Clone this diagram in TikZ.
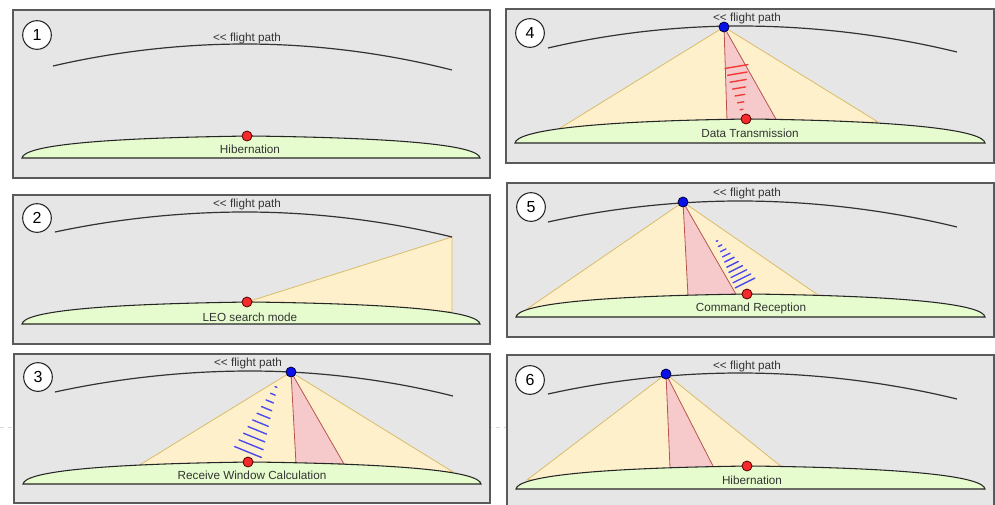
\documentclass[tikz,border=0pt]{standalone}
\usepackage{fontspec}
\setmainfont{Liberation Sans}
\usetikzlibrary{calc}
\definecolor{panelbg}{HTML}{E6E6E6}
\definecolor{panelline}{HTML}{5A5A5A}
\definecolor{pathline}{HTML}{333333}
\definecolor{groundgreen}{HTML}{E6FCCE}
\definecolor{conefill}{HTML}{FFF0CC}
\definecolor{coneline}{HTML}{D9BC6A}
\definecolor{beamfill}{HTML}{F6CACA}
\definecolor{beamline}{HTML}{B85450}
\definecolor{satblue}{HTML}{0A10E8}
\definecolor{stared}{HTML}{F52A2A}
\definecolor{hatchblue}{HTML}{4A4AEE}
\definecolor{hatchred}{HTML}{F03A3A}

\begin{document}
\begin{tikzpicture}[x=0.75pt, y=-0.75pt,
  panel/.style={draw=panelline, fill=panelbg, line width=1.2pt},
  fpath/.style={draw=pathline, line width=0.9pt},
  ground/.style={draw=black!85, fill=groundgreen, line width=0.8pt},
  cone/.style={draw=coneline, fill=conefill, line width=0.6pt},
  beam/.style={draw=beamline, fill=beamfill, line width=0.6pt},
  satdot/.style={circle, draw=black!75!blue, fill=satblue, minimum size=7.5pt, inner sep=0pt, line width=0.6pt},
  stadot/.style={circle, draw=black!65!red, fill=stared, minimum size=7.5pt, inner sep=0pt, line width=0.6pt},
  numcirc/.style={circle, draw=black!85, fill=white, minimum size=21.5pt, inner sep=0pt, line width=0.8pt,
    font=\fontsize{12}{14}\selectfont},
  lbl/.style={font=\fontsize{8.8}{10}\selectfont, text=black!80, inner sep=0pt},
  hatchb/.style={draw=hatchblue, line width=1.05pt, line cap=round},
  hatchr/.style={draw=hatchred, line width=1.05pt, line cap=round}
]
\def\flbl{<\kern0pt< flight path}
\def\groundarc#1#2#3#4{%
  \filldraw[ground] (#1,#3) .. controls ({#1+2},{#3-12}) and ({#1+70},{#4+2}) .. ({(#1+#2)/2},#4)
    .. controls ({#2-70},{#4+2}) and ({#2-2},{#3-12}) .. (#2,#3) -- cycle;}

\fill[white] (0,0) rectangle (995,504);
\useasboundingbox (0,0) rectangle (995,504);
\draw[gray!30, dashed, line width=0.4pt] (0,427) -- (995,427);

% --- 1: Hibernation ---
\draw[panel] (13,10) rectangle (490,178);
\node[numcirc] (n1) at (37,35) {1};
\draw[fpath] (53,66) parabola bend (245,44) (452,70);
\node[lbl] (fp1) at (247,38) {\flbl};
\groundarc{22}{480}{158}{136}
\node[stadot] (g1) at (247,136) {};
\node[lbl] (st1) at (250,149) {Hibernation};

% --- 2: LEO search ---
\draw[panel] (13,195) rectangle (490,344);
\node[numcirc] (n2) at (37,218) {2};
\coordinate (sta2) at (247,302);
\coordinate (e2) at (452,237);
\coordinate (f2) at (452,312);
\filldraw[cone] (sta2) -- (e2) -- (f2) -- cycle;
\draw[fpath] (55,232) parabola bend (245,212) (e2);
\node[lbl] (fp2) at (247,204) {\flbl};
\groundarc{22}{480}{324}{302}
\node[stadot] (g2) at (sta2) {};
\node[lbl] (st2) at (250,317) {LEO search mode};

% --- 3: Receive window ---
\draw[panel] (14,354) rectangle (490,503);
\node[numcirc] (n3) at (38,377) {3};
\draw[fpath] (55,392) parabola bend (250,371) (453,396);
\node[lbl] (fp3) at (248,363) {\flbl};
\coordinate (sat3) at (291,372);
\filldraw[cone] (sat3) -- (138,466) -- (453,472) -- cycle;
\filldraw[beam] (sat3) -- (296,464) -- (344,464) -- cycle;
\coordinate (h3a) at (276,387);
\coordinate (h3b) at (248,452);
\foreach \i in {0,...,9}{
  \pgfmathsetmacro\hl{1+13.5*\i/9}
  \draw[hatchb] ($(h3a)!\i/9!(h3b)$) ++({-0.926*\hl},{-0.377*\hl}) -- ++({1.852*\hl},{0.754*\hl});
}
\groundarc{23}{481}{484}{462}
\node[stadot] (g3) at (248,462) {};
\node[satdot] (s3) at (sat3) {};
\node[lbl] (st3) at (252,475) {Receive Window Calculation};

% --- 4: Data transmission ---
\draw[panel] (506,9) rectangle (994,163);
\node[numcirc] (n4) at (530,33) {4};
\draw[fpath] (548,48) parabola bend (740,26) (957,52);
\node[lbl] (fp4) at (747,18) {\flbl};
\coordinate (sat4) at (724,27);
\filldraw[cone] (sat4) -- (557,130) -- (878,122) -- cycle;
\filldraw[beam] (sat4) -- (727,121) -- (777,121) -- cycle;
\coordinate (h4a) at (736.5,66.5);
\coordinate (h4b) at (741.5,109.5);
\foreach \i in {0,...,6}{
  \pgfmathsetmacro\hl{11.5-10*\i/6}
  \draw[hatchr] ($(h4a)!\i/6!(h4b)$) ++({-0.986*\hl},{0.165*\hl}) -- ++({1.972*\hl},{-0.33*\hl});
}
\groundarc{515}{985}{143}{119}
\node[stadot] (g4) at (746,119) {};
\node[satdot] (s4) at (sat4) {};
\node[lbl] (st4) at (750,133) {Data Transmission};

% --- 5: Command reception ---
\draw[panel] (507,183) rectangle (994,337);
\node[numcirc] (n5) at (531,207) {5};
\draw[fpath] (548,222) parabola bend (740,201) (957,227);
\node[lbl] (fp5) at (747,193) {\flbl};
\coordinate (sat5) at (683,202);
\filldraw[cone] (sat5) -- (527,309) -- (821,297) -- cycle;
\filldraw[beam] (sat5) -- (688,296) -- (737,296) -- cycle;
\coordinate (h5a) at (717,241);
\coordinate (h5b) at (745,283);
\foreach \i in {0,...,9}{
  \pgfmathsetmacro\hl{0.8+10.2*\i/9}
  \draw[hatchb] ($(h5a)!\i/9!(h5b)$) ++({-0.894*\hl},{0.447*\hl}) -- ++({1.788*\hl},{-0.894*\hl});
}
\groundarc{516}{985}{317}{294}
\node[stadot] (g5) at (747,294) {};
\node[satdot] (s5) at (sat5) {};
\node[lbl] (st5) at (751,308) {Command Reception};

% --- 6: Hibernation ---
\draw[panel] (507,355) rectangle (994,508);
\node[numcirc] (n6) at (530,380) {6};
\draw[fpath] (548,394) parabola bend (740,373) (957,399);
\node[lbl] (fp6) at (747,366) {\flbl};
\coordinate (sat6) at (666,374);
\filldraw[cone] (sat6) -- (527,480) -- (783,468) -- cycle;
\filldraw[beam] (sat6) -- (670,468) -- (714,468) -- cycle;
\groundarc{516}{985}{489}{466}
\node[stadot] (g6) at (747,466) {};
\node[satdot] (s6) at (sat6) {};
\node[lbl] (st6) at (752,480) {Hibernation};

\end{tikzpicture}
\end{document}
